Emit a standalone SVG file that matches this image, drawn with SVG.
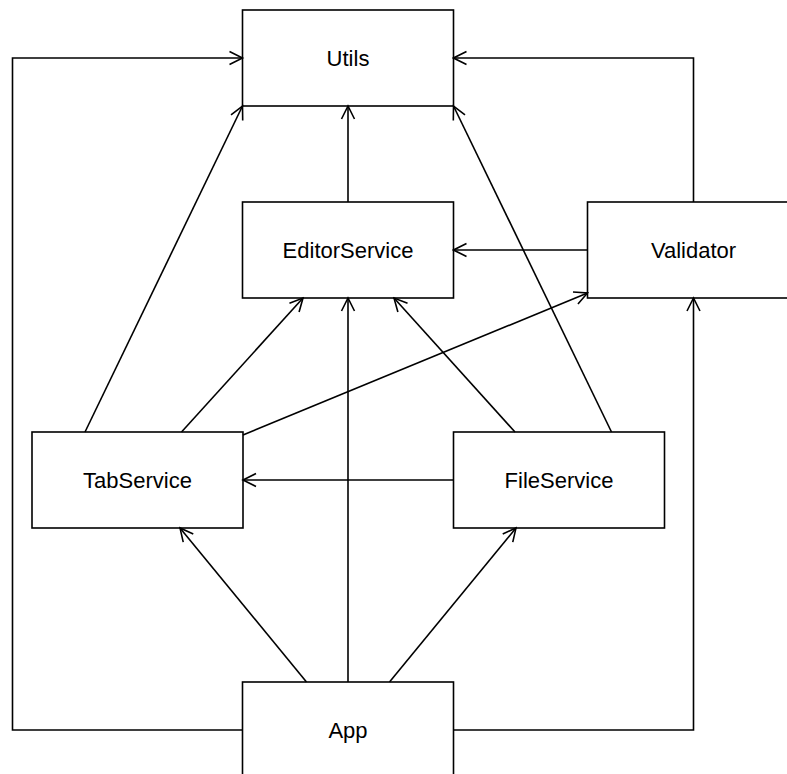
<svg xmlns="http://www.w3.org/2000/svg" width="787" height="774" viewBox="0 0 787 774">
  <style>
    .box { fill: #ffffff; stroke: #000000; stroke-width: 1.6; }
    .label { font-family: "Liberation Sans", Arial, Helvetica, sans-serif; font-size: 22px; fill: #000000; text-anchor: middle; }
    .edge { fill: none; stroke: #000000; stroke-width: 1.6; marker-end: url(#open-arrow); }
  </style>
  <defs>
    <marker id="open-arrow" markerUnits="userSpaceOnUse" viewBox="-15 -8 17 16" refX="0" refY="0" markerWidth="17" markerHeight="16" orient="auto">
      <path d="M-13,-6.5 L0,0 L-13,6.5" fill="none" stroke="#000000" stroke-width="1.6"/>
    </marker>
  </defs>

  <rect width="787" height="774" fill="#ffffff"/>

  <!-- nodes -->
  <g id="utils">
    <rect class="box" x="242.5" y="10" width="211" height="96"/>
    <text class="label" x="348" y="66">Utils</text>
  </g>
  <g id="editor-service">
    <rect class="box" x="242.5" y="202" width="211" height="96"/>
    <text class="label" x="348" y="258">EditorService</text>
  </g>
  <g id="validator">
    <rect class="box" x="587.5" y="202" width="211" height="96"/>
    <text class="label" x="693.5" y="258">Validator</text>
  </g>
  <g id="tab-service">
    <rect class="box" x="32" y="432" width="211" height="96"/>
    <text class="label" x="137.5" y="488">TabService</text>
  </g>
  <g id="file-service">
    <rect class="box" x="453.5" y="432" width="211" height="96"/>
    <text class="label" x="559" y="488">FileService</text>
  </g>
  <g id="app">
    <rect class="box" x="242.5" y="682" width="211" height="96"/>
    <text class="label" x="348" y="738">App</text>
  </g>

  <!-- connectors -->
  <g id="connectors">
    <path class="edge" d="M242.5,730 H12.5 V58 H242.5"/>
    <path class="edge" d="M693.5,202 V58 H453.5"/>
    <path class="edge" d="M348,202 V106"/>
    <path class="edge" d="M85,432 L242.5,106"/>
    <path class="edge" d="M611.5,432 L453.5,106"/>
    <path class="edge" d="M587.5,250 H453.5"/>
    <path class="edge" d="M181.5,432 L303,298"/>
    <path class="edge" d="M348,682 V298"/>
    <path class="edge" d="M515,432 L394,298"/>
    <path class="edge" d="M243,435 L587.5,293"/>
    <path class="edge" d="M453.5,480 H243"/>
    <path class="edge" d="M306.5,682 L180,528"/>
    <path class="edge" d="M389.5,682 L516,528"/>
    <path class="edge" d="M453.5,730 H693.5 V298"/>
  </g>
</svg>
